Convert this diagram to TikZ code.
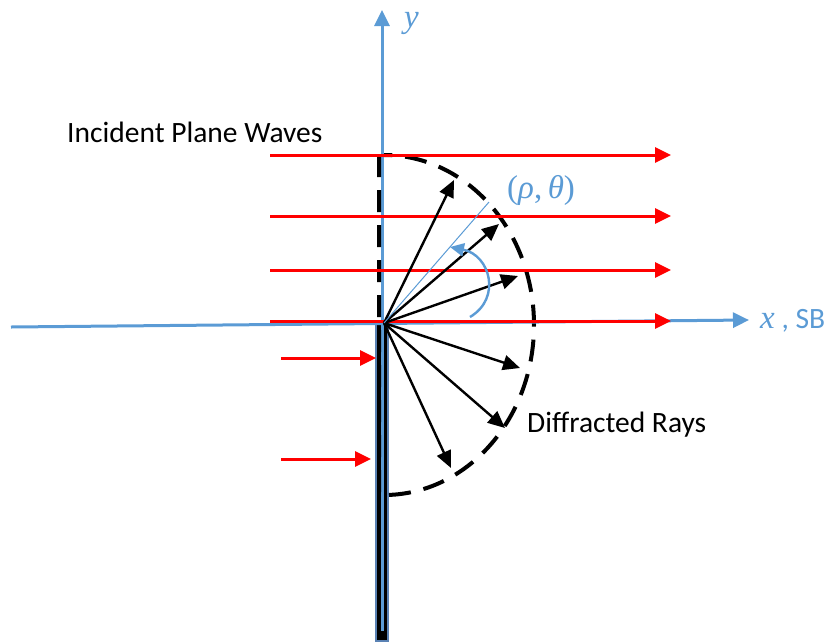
\documentclass[tikz,border=0pt]{standalone}
\usepackage{fontspec}
\setmainfont{Carlito}
\newfontfamily\mathlike{Liberation Serif}
\usetikzlibrary{arrows.meta}
\definecolor{axblue}{RGB}{91,155,213}
\definecolor{scrblue}{RGB}{90,130,180}
\definecolor{rayred}{RGB}{255,0,0}
\tikzset{
  axis/.style={axblue,line width=3pt,-{Triangle[length=16pt,width=15pt]}},
  wave/.style={rayred,line width=3pt,-{Triangle[length=16pt,width=15pt]}},
  ray/.style={black,line width=2.4pt,-{Triangle[length=17pt,width=15pt]}},
  lbl/.style={inner sep=0pt,font=\fontsize{29.5}{34}\selectfont},
  mlbl/.style={inner sep=0pt,axblue,font=\fontsize{29.5}{34}\selectfont},
  mbig/.style={inner sep=0pt,axblue,font=\fontsize{33}{38}\selectfont}
}
\begin{document}
\begin{tikzpicture}[x=1pt,y=-1pt]
\useasboundingbox (0,0) rectangle (828,641);
% coordinates
\coordinate (O) at (384,323);
\coordinate (ybot) at (382,631);
\coordinate (ytop) at (382,10);
\coordinate (xl) at (11,327);
\coordinate (xr) at (749,320);
% screen
\draw[scrblue,line width=2pt,fill=black] (376,323) rectangle (388,641);
% y axis
\draw[axis] (ybot) -- (ytop);
% dashed half ellipse
\draw[black,line width=4pt,dash pattern=on 22pt off 13pt]
  (379,155) -- (379,495) -- (384,495) arc[start angle=90,end angle=-90,x radius=150,y radius=170];
% x axis
\draw[axis] (xl) -- (xr);
% incident waves
\foreach \yy/\nm in {155/a,216/b,270/c,321/d}{
  \coordinate (w\nm s) at (270,\yy);
  \coordinate (w\nm e) at (671,\yy);
  \draw[wave] (w\nm s) -- (w\nm e);
}
\coordinate (ws1) at (281,358);
\coordinate (we1) at (376,358);
\coordinate (ws2) at (281,459);
\coordinate (we2) at (371,459);
\draw[wave] (ws1) -- (we1);
\draw[wave] (ws2) -- (we2);
% diffracted rays
\coordinate (t1) at (454,180);
\coordinate (t2) at (499,224);
\coordinate (t3) at (518,276);
\coordinate (t4) at (520,368);
\coordinate (t5) at (505,428);
\coordinate (t6) at (451,468);
\foreach \t in {t1,t2,t3,t4,t5,t6}{\draw[ray] (O) -- (\t);}
% rho line and angle arc
\coordinate (rp) at (489,202);
\draw[axblue,line width=1pt] (O) -- (rp);
\coordinate (as) at (470,317);
\coordinate (ae) at (450,247);
\draw[axblue,line width=2.4pt,-{Triangle[length=14pt,width=13pt]}] (as) .. controls (502,298) and (490,255) .. (ae);
% labels
\node[mbig,anchor=base west] (ylab) at (404,27) {\mathlike\itshape y};
\node[mbig,anchor=west] (rholab) at (507,190) {\mathlike(\itshape ρ\upshape,\,\itshape θ\upshape)};
\node[mlbl,anchor=west] (xlab) at (760,321) {{\mathlike\fontsize{33}{38}\selectfont\itshape x} , SB};
\node[lbl,anchor=west] (inc) at (67,132) {Incident Plane Waves};
\node[lbl,anchor=west] (dif) at (527,425) {Diffracted Rays};
\end{tikzpicture}
\end{document}
